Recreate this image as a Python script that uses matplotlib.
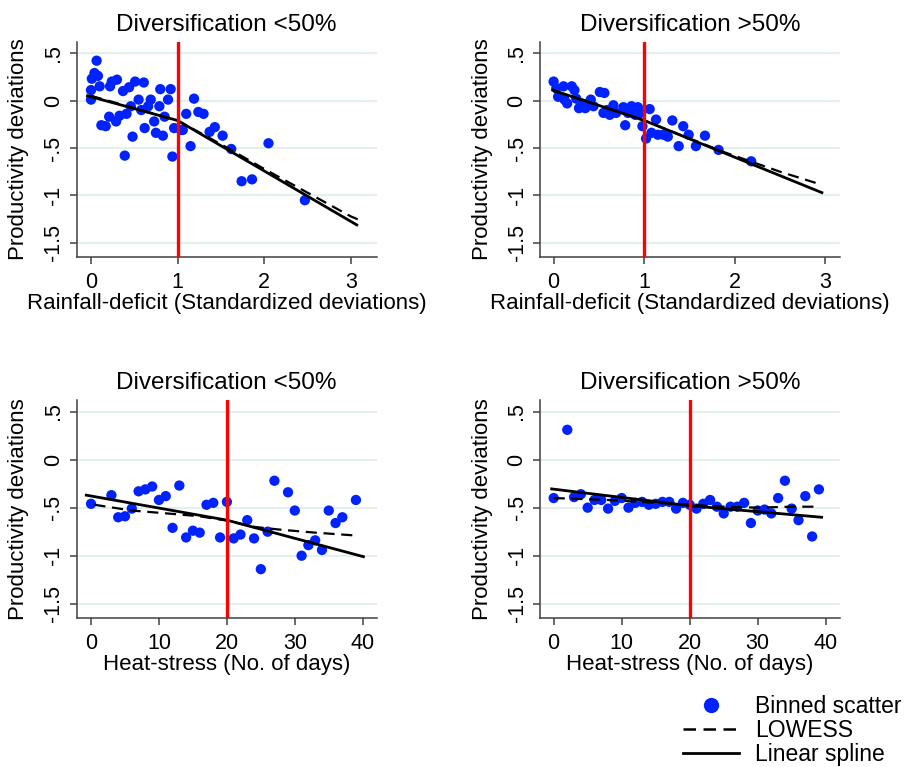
import numpy as np
import matplotlib
matplotlib.use("Agg")
import matplotlib.pyplot as plt
from matplotlib.lines import Line2D

plt.rcParams['font.family'] = ['Liberation Sans', 'DejaVu Sans']

# ---- data ----
# top-left: rainfall deficit, diversification <50%
rf_lo_x = [0.065, 0.0, 0.0, 0.01, 0.04, 0.08, 0.10, 0.12, 0.17, 0.22, 0.24, 0.21, 0.29, 0.30,
           0.33, 0.37, 0.39, 0.41, 0.44, 0.46, 0.48, 0.51, 0.55, 0.58, 0.61, 0.62, 0.66, 0.69,
           0.73, 0.75, 0.79, 0.80, 0.83, 0.85, 0.89, 0.92, 0.94, 0.96, 1.04, 1.06, 1.10, 1.15,
           1.19, 1.24, 1.30, 1.37, 1.43, 1.52, 1.62, 1.74, 1.86, 2.05, 2.47]
rf_lo_y = [0.42, 0.11, 0.01, 0.23, 0.29, 0.26, 0.15, -0.26, -0.27, 0.15, 0.20, -0.17, -0.22, 0.22,
           -0.16, 0.10, -0.58, -0.14, 0.14, -0.06, -0.38, 0.20, 0.01, -0.10, 0.19, -0.29, -0.06, 0.01,
           -0.22, -0.34, -0.06, 0.12, -0.37, -0.17, 0.01, 0.12, -0.59, -0.29, -0.31, -0.31, -0.14, -0.48,
           0.02, -0.12, -0.14, -0.33, -0.28, -0.37, -0.51, -0.85, -0.83, -0.45, -1.05]
rf_lo_spline_x = [-0.04, 1.0, 3.07]
rf_lo_spline_y = [0.05, -0.21, -1.31]
rf_lo_lowess_x = [0.0, 0.5, 1.0, 1.5, 2.0, 2.5, 3.0, 3.13]
rf_lo_lowess_y = [0.05, -0.08, -0.21, -0.46, -0.72, -0.97, -1.22, -1.27]

# top-right: rainfall deficit, diversification >50%
rf_hi_x = [0.0, 0.03, 0.05, 0.11, 0.12, 0.15, 0.20, 0.23, 0.25, 0.28, 0.31, 0.35, 0.38, 0.41,
           0.44, 0.51, 0.56, 0.55, 0.59, 0.62, 0.66, 0.69, 0.77, 0.79, 0.82, 0.86, 0.90, 0.93,
           0.96, 0.98, 1.02, 1.06, 1.08, 1.13, 1.15, 1.21, 1.26, 1.31, 1.38, 1.43, 1.49, 1.57,
           1.67, 1.82, 2.18]
rf_hi_y = [0.20, 0.13, 0.04, 0.15, 0.01, -0.03, 0.15, 0.11, 0.02, -0.08, -0.03, -0.08, -0.03, 0.01,
           -0.06, 0.09, 0.08, -0.13, -0.10, -0.15, -0.05, -0.13, -0.07, -0.26, -0.13, -0.06, -0.15, -0.07,
           -0.13, -0.27, -0.40, -0.09, -0.34, -0.20, -0.36, -0.36, -0.38, -0.21, -0.48, -0.27, -0.36, -0.48,
           -0.37, -0.52, -0.64]
rf_hi_spline_x = [-0.01, 1.0, 2.96]
rf_hi_spline_y = [0.11, -0.21, -0.97]
rf_hi_lowess_x = [0.0, 0.5, 1.0, 1.5, 1.9, 2.2, 2.5, 2.9]
rf_hi_lowess_y = [0.10, -0.05, -0.21, -0.40, -0.55, -0.65, -0.75, -0.87]

# bottom-left: heat stress, diversification <50%
hs_lo_x = [0, 3, 4, 5, 6, 7, 8, 9, 10, 11, 12, 13, 14, 15, 16, 17, 18, 19, 20, 21, 22, 23, 24,
           25, 26, 27, 29, 30, 31, 32, 33, 34, 35, 36, 37, 39]
hs_lo_y = [-0.46, -0.37, -0.60, -0.59, -0.51, -0.33, -0.31, -0.28, -0.42, -0.38, -0.71, -0.27,
           -0.81, -0.74, -0.76, -0.47, -0.45, -0.81, -0.44, -0.82, -0.78, -0.63, -0.82, -1.14,
           -0.75, -0.22, -0.34, -0.53, -1.00, -0.89, -0.84, -0.94, -0.53, -0.66, -0.60, -0.42]
hs_lo_spline_x = [-0.7, 20, 40.1]
hs_lo_spline_y = [-0.37, -0.63, -1.01]
hs_lo_lowess_x = [0.5, 6, 12, 16, 20, 24, 28, 33, 39]
hs_lo_lowess_y = [-0.47, -0.53, -0.565, -0.59, -0.635, -0.70, -0.73, -0.76, -0.79]

# bottom-right: heat stress, diversification >50%
hs_hi_x = [0, 2, 3, 4, 5, 6, 7, 8, 9, 10, 11, 12, 13, 14, 15, 16, 17, 18, 19, 20, 21, 22, 23,
           24, 25, 26, 27, 28, 29, 30, 31, 32, 33, 34, 35, 36, 37, 38, 39]
hs_hi_y = [-0.40, 0.31, -0.39, -0.36, -0.50, -0.42, -0.42, -0.51, -0.43, -0.40, -0.50, -0.45,
           -0.44, -0.47, -0.46, -0.44, -0.44, -0.51, -0.45, -0.47, -0.51, -0.46, -0.42, -0.49,
           -0.56, -0.49, -0.49, -0.45, -0.66, -0.53, -0.52, -0.56, -0.40, -0.22, -0.51, -0.63,
           -0.38, -0.80, -0.31]
hs_hi_spline_x = [-0.3, 20, 39.4]
hs_hi_spline_y = [-0.305, -0.48, -0.60]
hs_hi_lowess_x = [0, 8, 15, 20, 25, 30, 35, 38.5]
hs_hi_lowess_y = [-0.40, -0.42, -0.45, -0.47, -0.49, -0.50, -0.49, -0.49]

titles = ["Diversification <50%", "Diversification >50%"]
yticks = [0.5, 0, -0.5, -1, -1.5]
ytick_labels = [".5", "0", "-.5", "-1", "-1.5"]

W, H = 907, 767
fig = plt.figure(figsize=(W / 100, H / 100), dpi=100)


def add_ax(l, r, t, b):
    return fig.add_axes([l / W, 1 - b / H, (r - l) / W, (b - t) / H])


def draw(ax, x, y, sx, sy, lx, ly, xlim, xticks, knot, title, xlabel):
    for v in yticks:
        ax.axhline(v, color='#e3eff0', lw=1.5, zorder=0)
    ax.scatter(x, y, s=55, color='#0022ff', edgecolors='none', zorder=2)
    ax.plot(lx, ly, color='black', lw=1.6, ls=(0, (5, 3)), zorder=3)
    ax.plot(sx, sy, color='black', lw=2.0, zorder=3)
    ax.axvline(knot, color='red', lw=2.4, zorder=4)
    ax.set_xlim(*xlim)
    ax.set_ylim(-1.645, 0.62)
    ax.set_xticks(xticks)
    ax.set_xticklabels([str(t) for t in xticks], fontsize=15.5)
    ax.set_yticks(yticks)
    ax.set_yticklabels(ytick_labels, fontsize=15.5, rotation=90, va='center')
    for s in ['top', 'right']:
        ax.spines[s].set_visible(False)
    for s in ['left', 'bottom']:
        ax.spines[s].set_color('#404040')
        ax.spines[s].set_linewidth(1.1)
    ax.tick_params(direction='out', length=5, width=1.1, color='#404040')
    ax.tick_params(axis='x', pad=6)
    ax.tick_params(axis='y', pad=4)
    ax.set_title(title, fontsize=17.5, pad=8)
    ax.set_xlabel(xlabel, fontsize=16, labelpad=0)
    ax.set_ylabel("Productivity deviations", fontsize=16)
    ax.yaxis.set_label_coords(-0.158, 0.5)


ax1 = add_ax(76.7, 376.7, 41.7, 256.7)
draw(ax1, rf_lo_x, rf_lo_y, rf_lo_spline_x, rf_lo_spline_y, rf_lo_lowess_x, rf_lo_lowess_y,
     (-0.165, 3.30), [0, 1, 2, 3], 1, titles[0], "Rainfall-deficit (Standardized deviations)")
ax2 = add_ax(540, 840, 41.7, 256.7)
draw(ax2, rf_hi_x, rf_hi_y, rf_hi_spline_x, rf_hi_spline_y, rf_hi_lowess_x, rf_hi_lowess_y,
     (-0.15, 3.16), [0, 1, 2, 3], 1, titles[1], "Rainfall-deficit (Standardized deviations)")
ax3 = add_ax(76.7, 376.7, 400, 617.7)
draw(ax3, hs_lo_x, hs_lo_y, hs_lo_spline_x, hs_lo_spline_y, hs_lo_lowess_x, hs_lo_lowess_y,
     (-2.11, 42.06), [0, 10, 20, 30, 40], 20, titles[0], "Heat-stress (No. of days)")
ax4 = add_ax(540, 840, 400, 617.7)
draw(ax4, hs_hi_x, hs_hi_y, hs_hi_spline_x, hs_hi_spline_y, hs_hi_lowess_x, hs_hi_lowess_y,
     (-2.01, 42.1), [0, 10, 20, 30, 40], 20, titles[1], "Heat-stress (No. of days)")

handles = [
    Line2D([], [], ls='none', marker='o', markersize=11, color='#0022ff', markeredgecolor='none'),
    Line2D([], [], color='black', lw=1.8, ls=(0, (5, 3))),
    Line2D([], [], color='black', lw=2.0),
]
fig.legend(handles, ["Binned scatter", "LOWESS", "Linear spline"], loc='upper left',
           bbox_to_anchor=(683 / W, 1 - 695 / H), frameon=False, fontsize=16.5,
           handlelength=2.45, handletextpad=0.7, labelspacing=0.05, borderpad=0,
           borderaxespad=0)

fig.savefig("out.png", dpi=100)
